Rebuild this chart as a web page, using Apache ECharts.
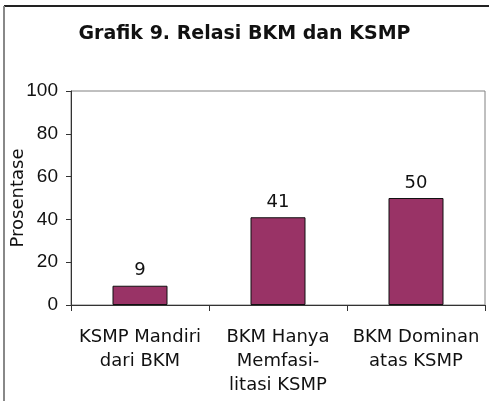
<!DOCTYPE html>
<html>
<head>
<meta charset="utf-8">
<script src="https://cdn.jsdelivr.net/npm/echarts@6/dist/echarts.min.js"></script>
<style>
html,body{margin:0;padding:0;background:#fff;}
#chart{width:489px;height:401px;}
</style>
</head>
<body>
<div id="chart"></div>
<script>
var categories = ["KSMP Mandiri\ndari BKM", "BKM Hanya\nMemfasi-\nlitasi KSMP", "BKM Dominan\natas KSMP"];
var values = [9, 41, 50];
var titleText = "Grafik 9. Relasi BKM dan KSMP";
var yAxisName = "Prosentase";

var chart = echarts.init(document.getElementById('chart'), null, {renderer: 'canvas'});
chart.setOption({
  backgroundColor: '#ffffff',
  animation: false,
  title: {
    text: titleText,
    left: 'center',
    top: 20,
    textStyle: {fontFamily: 'DejaVu Sans', fontWeight: 'bold', fontSize: 19, color: '#111'}
  },
  graphic: [
    {type: 'line', shape: {x1: 4, y1: 6, x2: 489, y2: 6}, style: {stroke: '#222', lineWidth: 2}, silent: true},
    {type: 'line', shape: {x1: 4, y1: 6, x2: 4, y2: 401}, style: {stroke: '#888', lineWidth: 2}, silent: true}
  ],
  grid: {
    left: 71, top: 91, right: 4, bottom: 96,
    containLabel: false,
    outerBoundsMode: 'none',
    show: true, borderColor: '#808080', borderWidth: 1, backgroundColor: '#fff'
  },
  xAxis: {
    type: 'category',
    data: categories,
    axisLine: {lineStyle: {color: '#333', width: 1}},
    axisTick: {show: true, inside: false, length: 6, alignWithLabel: false, lineStyle: {color: '#333'}},
    axisLabel: {
      margin: 20, interval: 0,
      fontFamily: 'DejaVu Sans', fontSize: 18, lineHeight: 24, color: '#111'
    }
  },
  yAxis: {
    type: 'value',
    min: 0, max: 100, interval: 20,
    name: yAxisName,
    nameLocation: 'middle',
    nameRotate: 90,
    nameGap: 44,
    nameMoveOverlap: false,
    nameTextStyle: {fontFamily: 'DejaVu Sans', fontSize: 18, color: '#111'},
    axisLine: {show: true, lineStyle: {color: '#333', width: 1}},
    axisTick: {show: true, inside: false, length: 5, lineStyle: {color: '#333'}},
    splitLine: {show: false},
    axisLabel: {margin: 13, fontFamily: 'Liberation Sans', fontSize: 19, color: '#111'}
  },
  series: [{
    type: 'bar',
    data: values,
    barWidth: 55,
    itemStyle: {color: '#993366', borderColor: '#111', borderWidth: 1},
    label: {
      show: true, position: 'top', distance: 6,
      fontFamily: 'DejaVu Sans', fontSize: 18, color: '#111'
    }
  }]
});
</script>
</body>
</html>
